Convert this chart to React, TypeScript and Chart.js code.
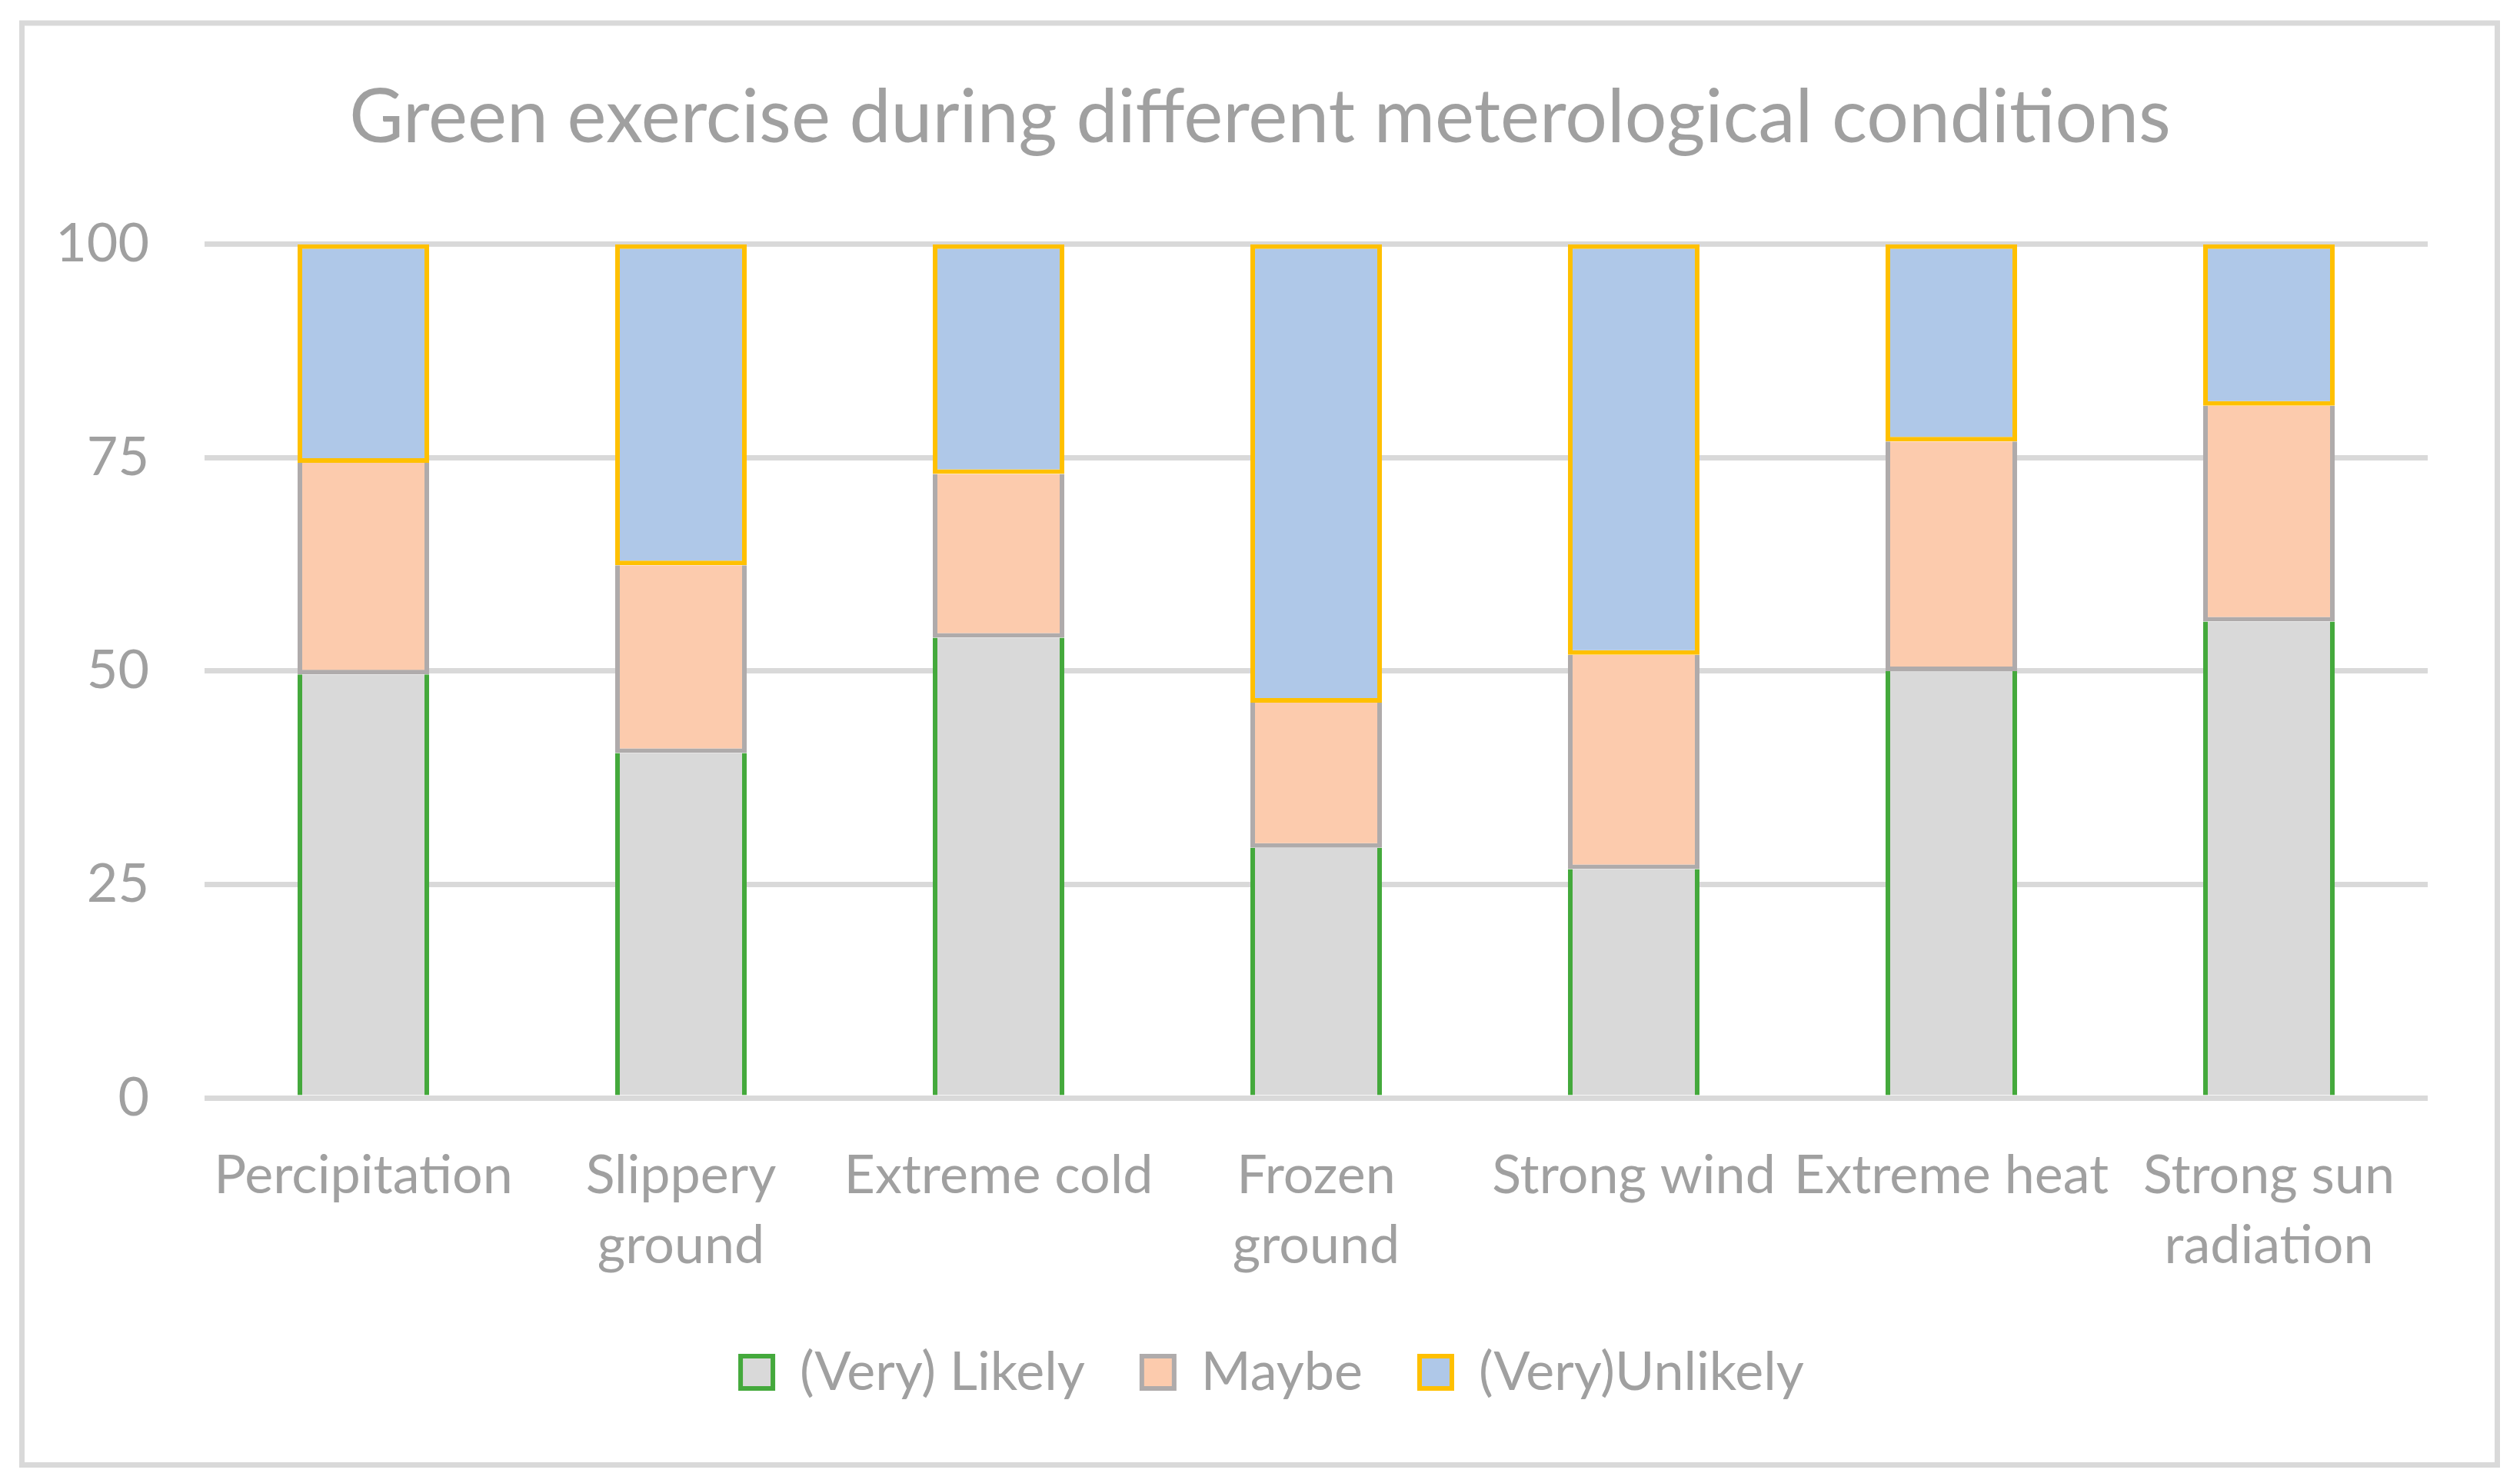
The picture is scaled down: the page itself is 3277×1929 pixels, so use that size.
import React, { useEffect, useRef } from 'react';
import { Chart, registerables } from 'chart.js';

Chart.register(...registerables);

const title = 'Green exercise during different meterological conditions';
const categories = [
  ['Percipitation'],
  ['Slippery', 'ground'],
  ['Extreme cold'],
  ['Frozen', 'ground'],
  ['Strong wind'],
  ['Extreme heat'],
  ['Strong sun', 'radiation'],
];
const seriesNames = ['(Very) Likely', 'Maybe', '(Very)Unlikely'];
const likely = [49.6, 40.4, 53.9, 29.3, 26.8, 50.0, 55.8];
const maybe = [24.8, 22.0, 19.2, 17.0, 25.1, 26.9, 25.3];
const unlikely = [25.6, 37.6, 26.9, 53.7, 48.1, 23.1, 18.9];
const yMin = 0;
const yMax = 100;
const yStep = 25;

const FONT = 'Lato, "Open Sans", sans-serif';
const TEXT = '#A0A0A0';
const GRID = '#D9D9D9';

const framePlugin = {
  id: 'frame',
  beforeDraw(chart: any) {
    const ctx = chart.ctx;
    ctx.save();
    ctx.fillStyle = '#FFFFFF';
    ctx.fillRect(0, 0, chart.width, chart.height);
    ctx.strokeStyle = GRID;
    ctx.lineWidth = 7;
    ctx.strokeRect(28.5, 30, 3219, 1875.5);
    ctx.restore();
  },
};

// Excel centres the title on the whole chart and the legend slightly right of the plot centre
const shiftPlugin = {
  id: 'shiftBlocks',
  afterLayout(chart: any) {
    const lg = chart.legend;
    if (lg) {
      lg.left += 56;
      lg.right += 56;
    }
    const tb = chart.titleBlock;
    if (tb) {
      tb.left += 40;
      tb.right += 40;
    }
  },
};

export default function App() {
  const ref = useRef<HTMLCanvasElement | null>(null);

  useEffect(() => {
    document.body.style.margin = '0';
    if (!ref.current) return;
    const chart = new Chart(ref.current, {
      type: 'bar',
      data: {
        labels: categories as any,
        datasets: [
          {
            label: seriesNames[0],
            data: likely,
            backgroundColor: '#D9D9D9',
            borderColor: '#44A93C',
            borderWidth: { left: 6, right: 6, top: 0, bottom: 0 } as any,
            borderSkipped: false,
            categoryPercentage: 1,
            barPercentage: 0.414,
          },
          {
            label: seriesNames[1],
            data: maybe,
            backgroundColor: '#FCCBAD',
            borderColor: '#AFABAB',
            borderWidth: { left: 6, right: 6, top: 0, bottom: 6 } as any,
            borderSkipped: false,
            categoryPercentage: 1,
            barPercentage: 0.414,
          },
          {
            label: seriesNames[2],
            data: unlikely,
            backgroundColor: '#AFC8E8',
            borderColor: '#FFC000',
            borderWidth: { left: 6, right: 6, top: 6, bottom: 6 } as any,
            borderSkipped: false,
            categoryPercentage: 1,
            barPercentage: 0.414,
          },
        ],
      },
      options: {
        animation: false,
        responsive: false,
        devicePixelRatio: 1,
        layout: { padding: { left: 40, right: 120, top: 0, bottom: 99 } },
        plugins: {
          title: {
            display: true,
            text: title,
            color: TEXT,
            font: { family: FONT, size: 96.5, weight: 'normal', lineHeight: 1.2 },
            padding: { top: 96, bottom: 106 },
          },
          legend: {
            position: 'bottom',
            labels: {
              boxWidth: 42,
              boxHeight: 42,
              padding: 74,
              color: TEXT,
              font: { family: FONT, size: 70 },
              generateLabels: (c: any) =>
                c.data.datasets.map((ds: any, i: number) => ({
                  text: ds.label,
                  fillStyle: ds.backgroundColor,
                  strokeStyle: ds.borderColor,
                  lineWidth: 6,
                  hidden: false,
                  datasetIndex: i,
                  fontColor: TEXT,
                })),
            },
          },
          tooltip: { enabled: false },
        },
        scales: {
          x: {
            stacked: true,
            grid: { display: false },
            border: { display: false },
            ticks: {
              color: TEXT,
              font: { family: FONT, size: 70, lineHeight: 1.3 },
              padding: 48,
              maxRotation: 0,
              autoSkip: false,
            },
            afterFit: (s: any) => {
              s.height = 248;
            },
          },
          y: {
            stacked: true,
            min: yMin,
            max: yMax,
            ticks: {
              stepSize: yStep,
              color: TEXT,
              font: { family: FONT, size: 70 },
              padding: 72,
            },
            grid: { color: GRID, lineWidth: 7, drawTicks: false },
            border: { display: false },
            afterFit: (s: any) => {
              s.width = 226;
            },
          },
        },
      } as any,
      plugins: [framePlugin, shiftPlugin],
    });
    return () => chart.destroy();
  }, []);

  return (
    <div style={{ width: 3277, height: 1929 }}>
      <canvas ref={ref} width={3277} height={1929} style={{ display: 'block', width: 3277, height: 1929 }} />
    </div>
  );
}
